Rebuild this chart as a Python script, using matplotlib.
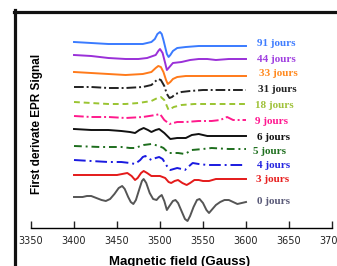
import matplotlib.pyplot as plt
from matplotlib.lines import Line2D

# Données (champ en Gauss, signal relatif)
g0 = [3400, 3410, 3415, 3420, 3426, 3432, 3437, 3442, 3447, 3452, 3456, 3459, 3463,
      3466, 3469, 3472, 3476, 3479, 3481, 3484, 3488, 3492, 3496, 3499, 3502, 3505,
      3508, 3511, 3515, 3518, 3521, 3525, 3529, 3532, 3535, 3539, 3543, 3546, 3550,
      3554, 3557, 3560, 3565, 3570, 3575, 3580, 3585, 3590, 3595, 3600]
s0 = [0, 0, 1, 1, -1, -3, -4, -2, 3, 9, 11, 8, 0, -5, -7, -3, 8, 16, 18, 14, 4, -2,
      -3, 0, 2, -4, -13, -9, -4, -3, -6, -14, -22, -24, -19, -10, -3, -2, -6, -13,
      -16, -13, -8, -5, -3, -3, -5, -7, -6, -5]

g3 = [3400, 3420, 3440, 3450, 3456, 3462, 3467, 3471, 3474, 3478, 3481, 3485, 3490,
      3500, 3506, 3510, 3513, 3517, 3521, 3526, 3531, 3535, 3540, 3545, 3550, 3557,
      3565, 3580, 3600]
s3 = [0, 0, 0, 0, 1, 2, -1, -5, -3, 2, 4, 2, -1, -1, -3, -7, -8, -6, -5, -8, -10,
      -8, -5, -5, -6, -6, -4, -4, -4]

g4 = [3400, 3420, 3440, 3455, 3465, 3471, 3477, 3480, 3483, 3486, 3490, 3495, 3499,
      3503, 3508, 3512, 3516, 3520, 3525, 3529, 3534, 3538, 3545, 3555, 3570, 3600]
s4 = [0, -1, -2, -2, -3, -4, 0, 3, 4, 2, 0, 2, 3, 1, -6, -10, -9, -8, -9, -10, -6,
      -3, -4, -5, -5, -5]

g5 = [3400, 3430, 3455, 3465, 3472, 3477, 3481, 3490, 3499, 3504, 3510, 3515, 3521,
      3529, 3537, 3550, 3560, 3580, 3600]
s5 = [0, -1, -1, -2, -2, 0, 1, 2, 0, -2, -7, -7, -7, -8, -4, -3, -2, -3, -3]

g6 = [3400, 3420, 3440, 3455, 3465, 3471, 3476, 3481, 3486, 3490, 3495, 3499, 3505,
      3512, 3520, 3530, 3537, 3545, 3555, 3570, 3600]
s6 = [0, -1, -1, -2, -3, -4, -1, 1, -1, -3, -1, 0, -4, -10, -9, -9, -6, -5, -7, -7,
      -7]

g9 = [3400, 3420, 3440, 3460, 3480, 3495, 3500, 3505, 3511, 3520, 3530, 3545, 3560,
      3570, 3578, 3585, 3595, 3600]
s9 = [0, -1, -1, -2, -1, 1, 2, -4, -8, -6, -6, -5, -5, -4, -1, -4, -4, -4]

g18 = [3400, 3420, 3440, 3460, 3475, 3490, 3497, 3501, 3505, 3510, 3516, 3525, 3540,
       3560, 3580, 3600]
s18 = [0, -1, -2, -2, -1, 1, 4, 5, 2, -8, -5, -3, -2, -2, -2, -2]

g31 = [3400, 3420, 3440, 3460, 3480, 3490, 3495, 3498, 3501, 3505, 3508, 3511, 3514,
       3518, 3525, 3535, 3550, 3570, 3600]
s31 = [0, 0, -1, -1, 0, 2, 6, 8, 7, 1, -7, -11, -10, -7, -5, -4, -3, -3, -3]

g33 = [3400, 3420, 3440, 3460, 3480, 3490, 3495, 3498, 3501, 3504, 3507, 3509, 3512,
       3515, 3520, 3530, 3550, 3570, 3600]
s33 = [0, -1, -2, -3, -2, 0, 4, 6, 5, 0, -8, -12, -10, -7, -5, -4, -4, -4, -4]

g44 = [3400, 3420, 3440, 3460, 3475, 3485, 3495, 3498, 3500, 3503, 3506, 3508, 3511,
       3515, 3525, 3535, 3545, 3555, 3565, 3580, 3600]
s44 = [0, -1, -3, -4, -4, -3, 0, 4, 6, 2, -8, -15, -12, -8, -7, -5, -4, -4, -5, -4,
       -4]

g91 = [3400, 3420, 3440, 3460, 3480, 3490, 3494, 3497, 3500, 3502, 3504, 3506, 3508,
       3510, 3512, 3515, 3520, 3530, 3545, 3570, 3600]
s91 = [1, 0, -1, -1, -1, 1, 4, 9, 11, 9, 3, -4, -11, -14, -12, -8, -5, -4, -3, -3,
       -3]

etiquettes = ["91 jours", "44 jours", "33 jours", "31 jours", "18 jours", "9 jours",
              "6 jours", "5 jours", "4 jours", "3 jours", "0 jours"]
champs = [g91, g44, g33, g31, g18, g9, g6, g5, g4, g3, g0]
signaux = [s91, s44, s33, s31, s18, s9, s6, s5, s4, s3, s0]

# Mise en page : décalage vertical de chaque courbe et de son étiquette
decalages = [185, 173, 156, 141, 126, 112, 99, 82, 68, 53, 31]
dy_etiq = [-1, -4, -1, -2, -4, -5, -8, -6, -6, -4, -4]
x_etiq = [3613, 3613, 3615, 3614, 3611, 3611, 3613, 3608, 3613, 3612, 3613]
couleurs = ["#3a7bff", "#9a30d8", "#ff7a1a", "#222222", "#9ac431", "#ff1a8c",
            "#111111", "#1e6e1e", "#1a1ae0", "#e41a1a", "#555555"]
coul_texte = ["#3f7dff", "#a040e0", "#ff8a20", "#222222", "#a0c23a", "#ff1890",
              "#111111", "#207020", "#2424e0", "#e82020", "#5a5a78"]
styles = ["-", "-", "-", (0, (5, 1.5, 1, 1.5)), (0, (3, 2)), (0, (5, 1.5, 1, 1.5)),
          "-", (0, (4, 2, 1, 2)), (0, (6, 2, 1, 2)), "-", "-"]

fig = plt.figure(figsize=(3.37, 2.66), dpi=100)
ax = fig.add_axes([31 / 337, 38 / 266, 301 / 337, 217 / 266])

for g, s, d, c, ls in zip(champs, signaux, decalages, couleurs, styles):
    ax.plot(g, [v + d for v in s], color=c, linestyle=ls, linewidth=1.4)

for lab, d, dy, x, c in zip(etiquettes, decalages, dy_etiq, x_etiq, coul_texte):
    ax.text(x, d + dy, lab, color=c, fontsize=8, fontweight="bold",
            family="Liberation Serif", va="center", ha="left")

ax.set_xlim(3350, 3700)
ax.set_ylim(0, 217)
ax.set_xticks(range(3350, 3701, 50))
ax.tick_params(axis="x", direction="in", length=5, width=1, labelsize=7,
               colors="#222222", pad=6)
ax.set_yticks([])
for side in ["top", "right", "left"]:
    ax.spines[side].set_visible(False)
ax.spines["bottom"].set_linewidth(1)

# Titres des axes
fig.text(180 / 337, 1 - 262 / 266, "Magnetic field (Gauss)", fontsize=9.5,
         fontweight="bold", family="Liberation Sans", ha="center", va="center")
fig.text(37 / 337, 1 - 124 / 266, "First derivate EPR Signal", fontsize=8.5,
         fontweight="bold", family="Liberation Sans", rotation=90,
         ha="center", va="center")

# Cadre noir autour de la figure
fig.add_artist(Line2D([14.5 / 337, 14.5 / 337], [0, 1 - 10 / 266], color="#111111",
                      linewidth=2.3, transform=fig.transFigure))
fig.add_artist(Line2D([13.5 / 337, 1], [1 - 11.5 / 266, 1 - 11.5 / 266],
                      color="#111111", linewidth=2.3, transform=fig.transFigure))

fig.savefig("out.png", dpi=100)
